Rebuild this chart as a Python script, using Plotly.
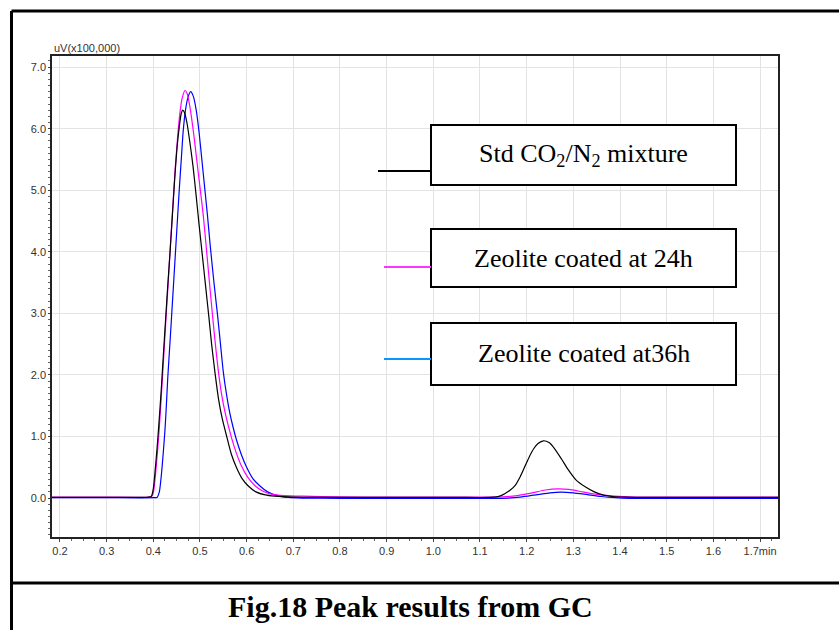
import plotly.graph_objects as go

# ---------------- data ----------------
std_x = [0.183, 0.30, 0.39, 0.396, 0.400, 0.404, 0.408, 0.412, 0.417, 0.421, 0.426, 0.431,
         0.436, 0.441, 0.446, 0.451, 0.456, 0.460, 0.463, 0.467, 0.472, 0.478, 0.485, 0.492,
         0.498, 0.505, 0.512, 0.519, 0.525, 0.532, 0.540, 0.548, 0.558, 0.567, 0.578, 0.590,
         0.603, 0.620, 0.640, 0.660, 0.700, 0.800, 0.950, 1.050, 1.120, 1.135, 1.145, 1.153,
         1.165, 1.175, 1.185, 1.193, 1.205, 1.215, 1.225, 1.236, 1.248, 1.260, 1.275, 1.289,
         1.305, 1.328, 1.345, 1.363, 1.385, 1.410, 1.450, 1.600, 1.7385]
std_y = [0.01, 0.01, 0.015, 0.03, 0.15, 0.45, 0.8, 1.2, 1.75, 2.25, 2.85, 3.45,
         4.0, 4.6, 5.2, 5.7, 6.05, 6.25, 6.30, 6.26, 6.1, 5.8, 5.4, 4.9,
         4.45, 3.95, 3.45, 2.95, 2.5, 2.05, 1.6, 1.28, 0.98, 0.72, 0.5, 0.32,
         0.2, 0.1, 0.05, 0.03, 0.015, 0.01, 0.01, 0.01, 0.01, 0.02, 0.04, 0.07,
         0.13, 0.2, 0.33, 0.46, 0.66, 0.80, 0.89, 0.93, 0.90, 0.80, 0.63, 0.46,
         0.30, 0.17, 0.10, 0.05, 0.025, 0.015, 0.01, 0.01, 0.01]

z24_x = [0.183, 0.30, 0.39, 0.397, 0.401, 0.405, 0.409, 0.413, 0.418, 0.422, 0.427, 0.432,
         0.437, 0.442, 0.447, 0.452, 0.457, 0.462, 0.468, 0.473, 0.479, 0.486, 0.493, 0.500,
         0.507, 0.512, 0.518, 0.524, 0.531, 0.538, 0.546, 0.555, 0.568, 0.578, 0.589, 0.603,
         0.618, 0.635, 0.655, 0.680, 0.720, 0.800, 0.900, 1.100, 1.150, 1.180, 1.210, 1.240,
         1.267, 1.290, 1.320, 1.350, 1.380, 1.420, 1.500, 1.7385]
z24_y = [0.015, 0.015, 0.015, 0.03, 0.12, 0.4, 0.75, 1.15, 1.75, 2.25, 2.9, 3.5,
         4.15, 4.75, 5.35, 5.85, 6.25, 6.5, 6.62, 6.56, 6.33, 5.95, 5.5, 5.05,
         4.6, 4.2, 3.7, 3.2, 2.65, 2.15, 1.7, 1.35, 0.97, 0.73, 0.52, 0.33,
         0.2, 0.11, 0.06, 0.04, 0.03, 0.02, 0.015, 0.015, 0.02, 0.04, 0.08, 0.13,
         0.15, 0.14, 0.10, 0.06, 0.035, 0.02, 0.015, 0.015]

z36_x = [0.183, 0.30, 0.400, 0.408, 0.413, 0.417, 0.421, 0.425, 0.428, 0.431, 0.436, 0.440,
         0.444, 0.448, 0.452, 0.456, 0.460, 0.464, 0.469, 0.474, 0.480, 0.486, 0.492, 0.498,
         0.504, 0.510, 0.516, 0.522, 0.530, 0.538, 0.544, 0.550, 0.557, 0.564, 0.571, 0.578,
         0.589, 0.600, 0.613, 0.628, 0.645, 0.665, 0.690, 0.720, 0.800, 1.000, 1.100, 1.160,
         1.190, 1.220, 1.250, 1.274, 1.300, 1.330, 1.360, 1.390, 1.420, 1.600, 1.7385]
z36_y = [0.005, 0.005, 0.005, 0.01, 0.1, 0.35, 0.7, 1.1, 1.5, 1.95, 2.55, 3.05,
         3.55, 4.05, 4.55, 5.05, 5.5, 5.95, 6.3, 6.5, 6.6, 6.52, 6.3, 5.95,
         5.5, 5.05, 4.6, 4.1, 3.5, 2.95, 2.5, 2.05, 1.68, 1.38, 1.15, 0.95,
         0.7, 0.5, 0.32, 0.2, 0.1, 0.04, 0.01, 0.0, -0.005, -0.005, -0.005, 0.0,
         0.02, 0.05, 0.085, 0.097, 0.085, 0.055, 0.025, 0.005, -0.005, -0.005, -0.005]

x_ticks = [0.2, 0.3, 0.4, 0.5, 0.6, 0.7, 0.8, 0.9, 1.0, 1.1, 1.2, 1.3, 1.4, 1.5, 1.6, 1.7]
x_tick_labels = ["0.2", "0.3", "0.4", "0.5", "0.6", "0.7", "0.8", "0.9", "1.0", "1.1",
                 "1.2", "1.3", "1.4", "1.5", "1.6", "1.7min"]
y_ticks = [0, 1, 2, 3, 4, 5, 6, 7]
y_tick_labels = ["0.0", "1.0", "2.0", "3.0", "4.0", "5.0", "6.0", "7.0"]

legend_labels = ["Std CO<sub>2</sub>/N<sub>2</sub> mixture", "Zeolite coated at 24h",
                 "Zeolite coated at36h"]
caption = "Fig.18 Peak results from GC"

# ---------------- figure ----------------
W, H = 839, 630
L, R, T, B = 52, 778, 56, 537


def px(x):
    return (x - L) / (R - L)


def py(y):
    return (B - y) / (B - T)


fig = go.Figure()
fig.add_trace(go.Scatter(x=z36_x, y=z36_y, mode="lines", line=dict(color="#0000ff", width=1.2),
                         line_shape="spline", line_smoothing=0.6, showlegend=False, hoverinfo="skip"))
fig.add_trace(go.Scatter(x=z24_x, y=z24_y, mode="lines", line=dict(color="#ff00ff", width=1.2),
                         line_shape="spline", line_smoothing=0.6, showlegend=False, hoverinfo="skip"))
fig.add_trace(go.Scatter(x=std_x, y=std_y, mode="lines", line=dict(color="#000000", width=1.2),
                         line_shape="spline", line_smoothing=0.6, showlegend=False, hoverinfo="skip"))

narrow = "Liberation Sans Narrow, Arial Narrow, Liberation Sans, Arial, sans-serif"
tickfont = dict(family=narrow, size=11, color="#333333")

fig.update_xaxes(range=[0.183, 1.7385], tickvals=x_ticks, ticktext=x_tick_labels,
                 showgrid=True, gridcolor="#e3e3e3", gridwidth=1,
                 showline=True, linecolor="#222222", linewidth=1.5, mirror=True,
                 ticks="outside", ticklen=3, tickcolor="#444", tickfont=tickfont,
                 minor=dict(dtick=0.025, ticks="outside", ticklen=2, tickcolor="#666", showgrid=False),
                 zeroline=False)
fig.update_yaxes(range=[-0.633, 7.18], tickvals=y_ticks, ticktext=y_tick_labels,
                 showgrid=True, gridcolor="#e3e3e3", gridwidth=1,
                 showline=True, linecolor="#222222", linewidth=1.5, mirror=True,
                 ticks="outside", ticklen=2, tickcolor="#444", tickfont=tickfont,
                 minor=dict(dtick=0.1, ticks="outside", ticklen=2, tickcolor="#666", showgrid=False),
                 zeroline=False)

shapes = []
# outer frame
shapes.append(dict(type="line", xref="paper", yref="paper", x0=px(11.5), x1=px(839), y0=py(11), y1=py(11),
                   line=dict(color="black", width=3)))
shapes.append(dict(type="line", xref="paper", yref="paper", x0=px(11.5), x1=px(11.5), y0=py(11), y1=py(630),
                   line=dict(color="black", width=3)))
shapes.append(dict(type="line", xref="paper", yref="paper", x0=px(11.5), x1=px(839), y0=py(583), y1=py(583),
                   line=dict(color="black", width=3)))

# legend boxes
boxes = [(125, 185), (229, 287), (323, 385)]
line_y = [171, 267, 359]
line_x0 = [378, 384, 384]
line_cols = ["#000000", "#ff33ff", "#0a96ff"]
annotations = []
for i, (y0, y1) in enumerate(boxes):
    shapes.append(dict(type="rect", xref="paper", yref="paper", x0=px(431), x1=px(736),
                       y0=py(y1), y1=py(y0), line=dict(color="black", width=2),
                       fillcolor="white", layer="above"))
    shapes.append(dict(type="line", xref="paper", yref="paper", x0=px(line_x0[i]), x1=px(431),
                       y0=py(line_y[i]), y1=py(line_y[i]), line=dict(color=line_cols[i], width=2),
                       layer="above"))
    annotations.append(dict(xref="paper", yref="paper", x=px(583.5), y=py((y0 + y1) / 2),
                            text=legend_labels[i], showarrow=False, xanchor="center", yanchor="middle",
                            font=dict(family="Liberation Serif, Times New Roman, serif", size=26,
                                      color="black")))

annotations.append(dict(xref="paper", yref="paper", x=px(52), y=py(48), text="uV(x100,000)",
                        showarrow=False, xanchor="left", yanchor="middle",
                        font=dict(family=narrow, size=11, color="#333333")))
annotations.append(dict(xref="paper", yref="paper", x=px(410), y=py(606), text="<b>" + caption + "</b>",
                        showarrow=False, xanchor="center", yanchor="middle",
                        font=dict(family="Liberation Serif, Times New Roman, serif", size=30,
                                  color="black")))

fig.update_layout(width=W, height=H, margin=dict(l=L, r=W - R, t=T, b=H - B),
                  paper_bgcolor="white", plot_bgcolor="white", hovermode=False,
                  shapes=shapes, annotations=annotations, showlegend=False)

fig.write_html("out.html", config={"displayModeBar": False},
               post_script="document.body.style.margin='0px';")
